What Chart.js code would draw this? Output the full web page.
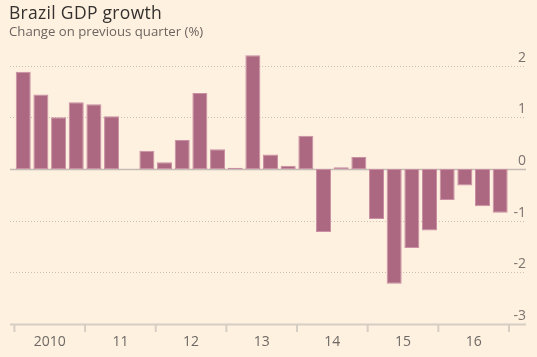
<!DOCTYPE html>
<html>
<head>
<meta charset="utf-8">
<script src="https://cdn.jsdelivr.net/npm/chart.js@4/dist/chart.umd.min.js"></script>
<style>
  html, body { margin: 0; padding: 0; background: #fff1e0; }
  #wrap { position: relative; width: 537px; height: 357px; overflow: hidden; }
  #title { position: absolute; left: 9px; top: 0px; font-family: "Open Sans", sans-serif; font-size: 17.5px; letter-spacing: 0.3px; color: #33302e; white-space: nowrap; }
  #subtitle { position: absolute; left: 9px; top: 22px; font-family: "Open Sans", sans-serif; font-size: 13.2px; color: #6b6560; white-space: nowrap; }
  canvas { position: absolute; left: 0; top: 0; }
</style>
</head>
<body>
<div id="wrap">
  <canvas id="c" width="537" height="357"></canvas>
  <div id="title">Brazil GDP growth</div>
  <div id="subtitle">Change on previous quarter (%)</div>
</div>
<script>
// Quarterly categories 2010 Q1 – 2016 Q4
const years = ['2010', '2011', '2012', '2013', '2014', '2015', '2016'];
const quarters = ['Q1', 'Q2', 'Q3', 'Q4'];
const categories = [];
years.forEach(y => quarters.forEach(q => categories.push(y + ' ' + q)));

// GDP growth, % change on previous quarter
const growth = [
  1.88, 1.44, 1.00, 1.29,
  1.25, 1.02, 0.00, 0.35,
  0.13, 0.56, 1.47, 0.38,
  0.02, 2.20, 0.28, 0.06,
  0.64, -1.22, 0.03, 0.23,
  -0.97, -2.22, -1.53, -1.19,
  -0.60, -0.32, -0.72, -0.85
];

// Axis tick labels
const yTicks = [2, 1, 0, -1, -2, -3];
const yearLabels = ['2010', '11', '12', '13', '14', '15', '16'];

const decorations = {
  id: 'ftDecor',
  beforeDatasetsDraw(chart) {
    const ctx = chart.ctx;
    const y = chart.scales.y;
    const x = chart.scales.x;
    const left = 10, right = 526;
    ctx.save();
    yTicks.forEach(v => {
      const py = Math.round(y.getPixelForValue(v)) + 0.5;
      ctx.beginPath();
      if (v === 0) {
        ctx.setLineDash([]);
        ctx.strokeStyle = '#c4bbb2';
        ctx.lineWidth = 1.5;
      } else if (v === -3) {
        ctx.setLineDash([]);
        ctx.strokeStyle = '#d6cdc3';
        ctx.lineWidth = 2;
      } else {
        ctx.setLineDash([1, 2]);
        ctx.strokeStyle = '#c9c0b6';
        ctx.lineWidth = 1;
      }
      ctx.moveTo(left, py);
      ctx.lineTo(right, py);
      ctx.stroke();
    });
    ctx.setLineDash([]);
    // y labels, right aligned above gridlines
    ctx.fillStyle = '#7a746f';
    ctx.font = '14px "Open Sans", sans-serif';
    ctx.textAlign = 'right';
    ctx.textBaseline = 'alphabetic';
    yTicks.forEach(v => {
      const py = y.getPixelForValue(v);
      ctx.fillText(String(v), right, py - 4);
    });
    // x ticks and year labels
    const half = (x.getPixelForValue(1) - x.getPixelForValue(0)) / 2;
    const axisY = y.getPixelForValue(-3);
    ctx.strokeStyle = '#d6cdc3';
    ctx.lineWidth = 2;
    for (let k = 0; k <= yearLabels.length; k++) {
      const idx = Math.min(k * 4, categories.length - 1);
      const px = k * 4 < categories.length ? x.getPixelForValue(idx) - half : x.getPixelForValue(idx) + half;
      ctx.beginPath();
      ctx.moveTo(px, axisY);
      ctx.lineTo(px, axisY + 8);
      ctx.stroke();
    }
    ctx.fillStyle = '#6e6964';
    ctx.textAlign = 'center';
    ctx.textBaseline = 'middle';
    yearLabels.forEach((lab, k) => {
      const cx = (x.getPixelForValue(k * 4) + x.getPixelForValue(k * 4 + 3)) / 2;
      ctx.fillText(lab, cx, axisY + 18);
    });
    ctx.restore();
  }
};

new Chart(document.getElementById('c'), {
  type: 'bar',
  data: {
    labels: categories,
    datasets: [{
      data: growth,
      backgroundColor: '#ad6881',
      borderColor: '#c98fa3',
      borderWidth: 1,
      borderSkipped: false,
      categoryPercentage: 1.0,
      barPercentage: 0.85
    }]
  },
  options: {
    responsive: false,
    animation: false,
    layout: { padding: { left: 14.4, right: 28, top: 50, bottom: 33 } },
    plugins: { legend: { display: false }, tooltip: { enabled: false }, title: { display: false } },
    scales: {
      x: { display: false, offset: true },
      y: { display: false, min: -3, max: 2.3 }
    }
  },
  plugins: [decorations]
});
</script>
</body>
</html>
